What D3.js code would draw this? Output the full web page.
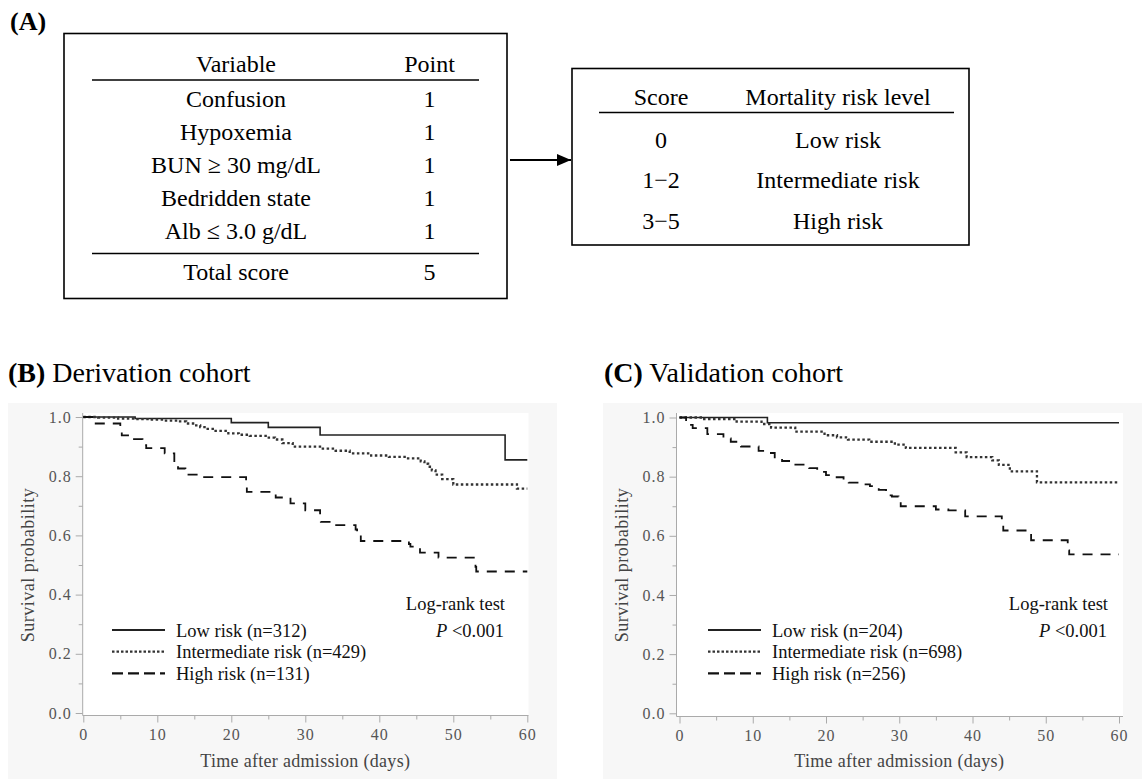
<!DOCTYPE html>
<html>
<head>
<meta charset="utf-8">
<script src="https://cdn.jsdelivr.net/npm/d3@7"></script>
<style>
  html, body { margin: 0; padding: 0; background: #fff; }
  svg { display: block; }
  text { font-family: "Liberation Serif", "Times New Roman", serif; }
</style>
</head>
<body>
<svg id="chart" width="1146" height="781"></svg>
<script>
// ---------------- DATA ----------------
const tableVariables = ["Confusion", "Hypoxemia", "BUN \u2265 30 mg/dL", "Bedridden state", "Alb \u2264 3.0 g/dL"];
const tablePoints = ["1", "1", "1", "1", "1"];
const totalLabel = "Total score";
const totalPoints = "5";
const scoreRanges = ["0", "1\u22122", "3\u22125"];
const riskLevels = ["Low risk", "Intermediate risk", "High risk"];

const xTicks = [0, 10, 20, 30, 40, 50, 60];
const xMinorTicks = [5, 15, 25, 35, 45, 55];
const yTicks = [0, 0.2, 0.4, 0.6, 0.8, 1.0];
const yMinorTicks = [0.1, 0.3, 0.5, 0.7, 0.9];

// Derivation cohort (B): step times (days) and survival after each step
const derivLowT = [0, 7, 20, 25, 32, 57];
const derivLowS = [1.0, 0.995, 0.981, 0.965, 0.939, 0.855];
const derivIntT = [0, 2, 4.7, 7, 9, 11, 12.9, 13.9, 15, 15.8, 16.8, 17.7, 19.6, 21, 22.5, 24.9, 25.9, 26.9, 28.3, 32.2, 34.1, 36, 38.9, 41.3, 43.7, 45.6, 46.1, 46.6, 47.1, 47.6, 48.5, 50, 58.6];
const derivIntS = [1.0, 0.998, 0.995, 0.993, 0.991, 0.988, 0.985, 0.978, 0.972, 0.966, 0.96, 0.953, 0.945, 0.94, 0.936, 0.93, 0.924, 0.912, 0.9, 0.893, 0.886, 0.877, 0.87, 0.865, 0.86, 0.85, 0.842, 0.832, 0.82, 0.805, 0.79, 0.772, 0.758];
const derivHighT = [0, 1.5, 5, 5.2, 6.2, 8, 8.5, 11, 12.3, 12.8, 13.8, 15.8, 22, 22.1, 26, 28, 30, 32, 32.1, 34, 36.8, 37, 37.5, 44, 44.2, 45.5, 48, 53, 53.1];
const derivHighS = [1.0, 0.978, 0.955, 0.938, 0.925, 0.905, 0.895, 0.877, 0.848, 0.826, 0.805, 0.797, 0.775, 0.747, 0.728, 0.708, 0.685, 0.663, 0.646, 0.635, 0.62, 0.604, 0.581, 0.571, 0.562, 0.542, 0.525, 0.494, 0.478];

// Validation cohort (C)
const validLowT = [0, 12];
const validLowS = [1.0, 0.982];
const validIntT = [0, 3.2, 7.8, 11.2, 12.5, 15.8, 19.8, 21.5, 23, 25.9, 29.4, 30.9, 37.7, 39.2, 42.7, 43.6, 45.1, 48.8];
const validIntS = [1.0, 0.995, 0.986, 0.978, 0.966, 0.952, 0.94, 0.933, 0.925, 0.918, 0.908, 0.897, 0.882, 0.866, 0.855, 0.84, 0.818, 0.781];
const validHighT = [0, 0.9, 1.8, 3.8, 6, 7, 8.4, 10.8, 11.9, 13, 14, 15.2, 17.7, 18.8, 20, 20.8, 22.4, 23.1, 24.8, 26, 27.2, 28.2, 29, 29.9, 30.2, 35, 36.7, 39, 44, 44.2, 48, 53, 53.2];
const validHighS = [1.0, 0.975, 0.964, 0.944, 0.929, 0.918, 0.902, 0.887, 0.88, 0.862, 0.853, 0.841, 0.829, 0.816, 0.805, 0.798, 0.788, 0.78, 0.774, 0.768, 0.755, 0.737, 0.733, 0.715, 0.7, 0.689, 0.686, 0.666, 0.638, 0.618, 0.585, 0.551, 0.537];

const derivLegend = ["Low risk (n=312)", "Intermediate risk (n=429)", "High risk (n=131)"];
const validLegend = ["Low risk (n=204)", "Intermediate risk (n=698)", "High risk (n=256)"];
const endTime = 60;

// ---------------- DRAW ----------------
const svg = d3.select("#chart");
svg.append("rect").attr("width", 1146).attr("height", 781).attr("fill", "#fff");

// ---- Panel A ----
svg.append("text").attr("x", 10).attr("y", 30).attr("font-size", 26).attr("font-weight", "bold").text("(A)");

const tA = svg.append("g");
tA.append("rect").attr("x", 64).attr("y", 33.5).attr("width", 443).attr("height", 265)
  .attr("fill", "none").attr("stroke", "#000").attr("stroke-width", 1.6);
const colV = 236, colP = 429.5;
tA.append("text").attr("x", colV).attr("y", 72).attr("text-anchor", "middle").attr("font-size", 24).text("Variable");
tA.append("text").attr("x", colP).attr("y", 72).attr("text-anchor", "middle").attr("font-size", 24).text("Point");
tA.append("line").attr("x1", 92).attr("x2", 479).attr("y1", 80).attr("y2", 80).attr("stroke", "#000").attr("stroke-width", 1.6);
const rowY = d3.scaleLinear().domain([0, 4]).range([106.7, 239.3]);
tA.selectAll("text.var").data(tableVariables).join("text").attr("class", "var")
  .attr("x", colV).attr("y", (d, i) => rowY(i)).attr("text-anchor", "middle").attr("font-size", 24).text(d => d);
tA.selectAll("text.pt").data(tablePoints).join("text").attr("class", "pt")
  .attr("x", colP).attr("y", (d, i) => rowY(i)).attr("text-anchor", "middle").attr("font-size", 24).text(d => d);
tA.append("line").attr("x1", 92).attr("x2", 479).attr("y1", 253.5).attr("y2", 253.5).attr("stroke", "#000").attr("stroke-width", 1.6);
tA.append("text").attr("x", colV).attr("y", 279.5).attr("text-anchor", "middle").attr("font-size", 24).text(totalLabel);
tA.append("text").attr("x", colP).attr("y", 279.5).attr("text-anchor", "middle").attr("font-size", 24).text(totalPoints);

// arrow
svg.append("defs").append("marker").attr("id", "arr").attr("viewBox", "0 0 14 12")
  .attr("refX", 14).attr("refY", 6).attr("markerWidth", 14).attr("markerHeight", 12)
  .attr("markerUnits", "userSpaceOnUse").attr("orient", "auto")
  .append("path").attr("d", "M0,0 L14,6 L0,12 Z").attr("fill", "#000");
svg.append("line").attr("x1", 510).attr("x2", 571).attr("y1", 160).attr("y2", 160)
  .attr("stroke", "#000").attr("stroke-width", 2).attr("marker-end", "url(#arr)");

const tB = svg.append("g");
tB.append("rect").attr("x", 572).attr("y", 68.5).attr("width", 397).attr("height", 176.5)
  .attr("fill", "none").attr("stroke", "#000").attr("stroke-width", 1.6);
const colS = 661, colR = 838;
tB.append("text").attr("x", colS).attr("y", 105).attr("text-anchor", "middle").attr("font-size", 24).text("Score");
tB.append("text").attr("x", colR).attr("y", 105).attr("text-anchor", "middle").attr("font-size", 24).text("Mortality risk level");
tB.append("line").attr("x1", 599).attr("x2", 954).attr("y1", 112.5).attr("y2", 112.5).attr("stroke", "#000").attr("stroke-width", 1.6);
const rowY2 = d3.scaleLinear().domain([0, 2]).range([147.5, 228.5]);
tB.selectAll("text.sc").data(scoreRanges).join("text").attr("class", "sc")
  .attr("x", colS).attr("y", (d, i) => rowY2(i)).attr("text-anchor", "middle").attr("font-size", 24).text(d => d);
tB.selectAll("text.rl").data(riskLevels).join("text").attr("class", "rl")
  .attr("x", colR).attr("y", (d, i) => rowY2(i)).attr("text-anchor", "middle").attr("font-size", 24).text(d => d);

// ---- KM panels ----
const lineStyles = [
  { stroke: "#222", width: 1.6, dash: null, legendDash: null },
  { stroke: "#333", width: 2.3, dash: "2.5,2.5", legendDash: "2.5,2" },
  { stroke: "#111", width: 1.8, dash: "10,8", legendDash: "11,5" }
];

function kmPanel(cfg) {
  const g = svg.append("g");
  g.append("text").attr("x", cfg.titleX).attr("y", 382).attr("font-size", 28)
    .call(t => { t.append("tspan").attr("font-weight", "bold").text(cfg.tag); t.append("tspan").text(" " + cfg.title); });
  g.append("rect").attr("x", cfg.bg[0]).attr("y", 403).attr("width", cfg.bg[1] - cfg.bg[0]).attr("height", 376).attr("fill", "#f7f7f7");
  const x = d3.scaleLinear().domain([0, 60]).range(cfg.xRange);
  const y = d3.scaleLinear().domain([0, 1]).range(cfg.yRange);
  g.append("rect").attr("x", cfg.axisX).attr("y", 413).attr("width", cfg.plotRight - cfg.axisX).attr("height", cfg.axisY - 413).attr("fill", "#fff");

  // axes
  const axisColor = "#aaa";
  const xa = g.append("g").attr("transform", `translate(0,${cfg.axisY})`)
    .call(d3.axisBottom(x).tickValues(xTicks).tickSize(7).tickPadding(6).tickFormat(d3.format("d")));
  const xm = g.append("g").attr("transform", `translate(0,${cfg.axisY})`)
    .call(d3.axisBottom(x).tickValues(xMinorTicks).tickSize(4).tickFormat(""));
  const ya = g.append("g").attr("transform", `translate(${cfg.axisX},0)`)
    .call(d3.axisLeft(y).tickValues(yTicks).tickSize(7).tickPadding(4).tickFormat(d3.format(".1f")));
  const ym = g.append("g").attr("transform", `translate(${cfg.axisX},0)`)
    .call(d3.axisLeft(y).tickValues(yMinorTicks).tickSize(4).tickFormat(""));
  [xa, xm, ya, ym].forEach(a => {
    a.select(".domain").remove();
    a.selectAll("line").attr("stroke", axisColor).attr("stroke-width", 1);
    a.selectAll("text").attr("font-family", "'Liberation Serif', serif").attr("font-size", 16)
      .attr("fill", "#555").attr("letter-spacing", 1);
  });
  g.append("line").attr("x1", cfg.axisX).attr("x2", cfg.axisX).attr("y1", 413).attr("y2", cfg.axisY).attr("stroke", axisColor);
  g.append("line").attr("x1", cfg.axisX).attr("x2", cfg.plotRight).attr("y1", cfg.axisY).attr("y2", cfg.axisY).attr("stroke", axisColor);

  g.append("text").attr("x", (cfg.xRange[0] + cfg.xRange[1]) / 2).attr("y", 767).attr("text-anchor", "middle")
    .attr("font-size", 18).attr("fill", "#444").attr("letter-spacing", 0.3).text("Time after admission (days)");
  g.append("text").attr("transform", `translate(${cfg.yTitleX},565) rotate(-90)`).attr("text-anchor", "middle")
    .attr("font-size", 18).attr("fill", "#444").attr("letter-spacing", 0.5).text("Survival probability");

  // curves
  const line = d3.line().x(d => x(d[0])).y(d => y(d[1])).curve(d3.curveStepAfter);
  cfg.series.forEach((s, i) => {
    const pts = s.t.map((t, j) => [t, s.s[j]]);
    pts.push([endTime, s.s[s.s.length - 1]]);
    const st = lineStyles[i];
    g.append("path").datum(pts).attr("d", line).attr("fill", "none")
      .attr("stroke", st.stroke).attr("stroke-width", st.width)
      .attr("stroke-dasharray", st.dash);
  });

  // legend
  cfg.legend.forEach((lab, i) => {
    const ly = 630 + i * 21.7;
    const st = lineStyles[i];
    g.append("line").attr("x1", cfg.legX).attr("x2", cfg.legX + 53).attr("y1", ly).attr("y2", ly)
      .attr("stroke", st.stroke).attr("stroke-width", i === 0 ? 2 : 2.2).attr("stroke-dasharray", st.legendDash);
    g.append("text").attr("x", cfg.legX + 64).attr("y", ly + 6.5).attr("font-size", 18.5).attr("fill", "#111").text(lab);
  });
  g.append("text").attr("x", cfg.lrX).attr("y", 609.5).attr("text-anchor", "end").attr("font-size", 18.5).attr("fill", "#111").text("Log-rank test");
  g.append("text").attr("x", cfg.lrX - 1).attr("y", 637).attr("text-anchor", "end").attr("font-size", 18.5).attr("fill", "#111")
    .call(t => { t.append("tspan").attr("font-style", "italic").text("P"); t.append("tspan").text(" <0.001"); });
}

kmPanel({
  tag: "(B)", title: "Derivation cohort", titleX: 8, bg: [8, 557],
  xRange: [83.3, 527.3], yRange: [713, 417], axisX: 82.7, axisY: 715.5, plotRight: 528.5,
  yTitleX: 34, legX: 112, lrX: 505,
  legend: derivLegend,
  series: [{ t: derivLowT, s: derivLowS }, { t: derivIntT, s: derivIntS }, { t: derivHighT, s: derivHighS }]
});
kmPanel({
  tag: "(C)", title: "Validation cohort", titleX: 604, bg: [603, 1142],
  xRange: [679.5, 1119], yRange: [713.3, 417.5], axisX: 676.5, axisY: 716.5, plotRight: 1123,
  yTitleX: 628, legX: 708, lrX: 1108,
  legend: validLegend,
  series: [{ t: validLowT, s: validLowS }, { t: validIntT, s: validIntS }, { t: validHighT, s: validHighS }]
});
</script>
</body>
</html>
